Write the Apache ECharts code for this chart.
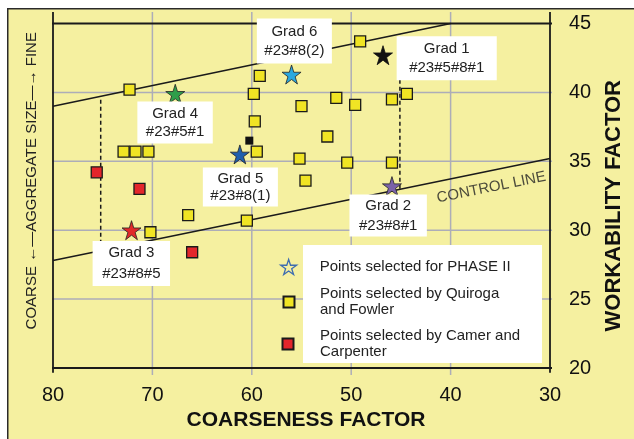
<!DOCTYPE html>
<html><head><meta charset="utf-8">
<script src="https://cdn.jsdelivr.net/npm/echarts@6/dist/echarts.min.js"></script>
<style>html,body{margin:0;padding:0;background:#fff}#c{width:634px;height:439px}</style>
</head><body><div id="c"></div>
<script>
// ---------- data ----------
const xTicks = [80, 70, 60, 50, 40, 30];
const yTicks = [20, 25, 30, 35, 40, 45];
const quirogaFowler = [[72.3,40.2],[59.2,41.2],[59.8,39.9],[55.0,39.0],[51.5,39.6],[49.6,39.1],[45.9,39.5],[44.4,39.9],[49.1,43.7],[59.7,37.9],[52.4,36.8],[59.5,35.7],[55.2,35.2],[50.4,34.9],[45.9,34.9],[54.6,33.6],[72.9,35.7],[71.7,35.7],[70.4,35.7],[66.4,31.1],[60.5,30.7],[70.2,29.85]];
const camerCarpenter = [[75.6,34.2],[71.3,33.0],[66.0,28.4]];
const otherPoints = [[60.25,36.5]];
const gradNames = ['Grad 1','Grad 2','Grad 3','Grad 4','Grad 5','Grad 6'];
const gradCodes = ['#23#5#8#1','#23#8#1','#23#8#5','#23#5#1','#23#8(1)','#23#8(2)'];
const gradPoints = [[46.8,42.7],[45.9,33.2],[72.1,30.0],[67.7,39.9],[61.2,35.5],[56.0,41.3]];
const upperLine = [[80,39.0],[40,45]];
const controlLine = [[80,27.8],[30,35.2]];
const leftLimit = [[75.2,28.5],[75.2,39.7]];
const rightLimit = [[45.1,33.0],[45.1,44.2]];
const controlLabelPos = [[35.9,33.1]];
const legendNames = ['Points selected for PHASE II','Points selected by Quiroga and Fowler','Points selected by Camer and Carpenter'];
const legendLines = ['Points selected for PHASE II','Points selected by Quiroga\nand Fowler','Points selected by Camer and\nCarpenter'];

// ---------- style ----------
const FONT = '"Liberation Sans", Arial, sans-serif';
const STAR = 'path://M50,0L61.17,34.63L97.55,34.55L68.07,55.87L79.39,90.45L50,69L20.61,90.45L31.93,55.87L2.45,34.55L38.83,34.63Z';
const gradColors = ['#111111','#7a62a8','#e12a2a','#2f9e4a','#1f5fad','#29a8e0'];
const gradLabelStyle = [
  {offset:[63.7,3],   padding:[3,12.5],  lineHeight:19},
  {offset:[-3.8,29.3],padding:[1,9.5],   lineHeight:20},
  {offset:[-0.2,33.2],padding:[1.5,9.5], lineHeight:21},
  {offset:[-0.2,28.7],padding:[3,8.5],   lineHeight:18},
  {offset:[0.5,32.5], padding:[2.5,7.5], lineHeight:17},
  {offset:[2.8,-33.5],padding:[3.5,7.5], lineHeight:19}
];
const X_EXT_L = 1.4, X_EXT_R = 1.0, Y_EXT_T = 0.83, Y_EXT_B = 0.5, Y_EXT_B_AX = 0.34;
const GRID_COLOR = '#adadb8', INK = '#1a1a1a';

const xMin = Math.min(...xTicks), xMax = Math.max(...xTicks);
const yMin = Math.min(...yTicks), yMax = Math.max(...yTicks);

function seg(data, color, width, z, dash) {
  return {type:'line', data, symbol:'none', clip:false, silent:true, z,
    lineStyle:{color, width, type: dash || 'solid', opacity:1}, animation:false};
}
const series = [];
xTicks.forEach(x => {
  const edge = (x === xMin || x === xMax);
  series.push(seg([[x, yMin - (edge ? Y_EXT_B_AX : Y_EXT_B)], [x, yMax + Y_EXT_T]], edge ? INK : GRID_COLOR, edge ? 1.8 : 1.5, edge ? 2 : 1));
});
yTicks.forEach(y => {
  const edge = (y === yMin || y === yMax);
  series.push(seg([[xMax + X_EXT_L, y], [xMin - X_EXT_R, y]], edge ? INK : GRID_COLOR, edge ? 1.8 : 1.5, edge ? 2 : 1));
});
series.push(seg(upperLine, INK, 1.6, 3));
series.push(seg(controlLine, INK, 1.6, 3));
series.push(seg(leftLimit, INK, 1.5, 3, [4,3]));
series.push(seg(rightLimit, INK, 1.5, 3, [4,3]));

series.push({type:'scatter', name:legendNames[1], data:quirogaFowler, symbol:'rect', symbolSize:11, z:4,
  itemStyle:{color:'#f0e424', borderColor:INK, borderWidth:1.3, opacity:1}});
series.push({type:'scatter', name:legendNames[2], data:camerCarpenter, symbol:'rect', symbolSize:11, z:4,
  itemStyle:{color:'#e3262b', borderColor:INK, borderWidth:1.3, opacity:1}});
series.push({type:'scatter', name:'other', data:otherPoints, symbol:'rect', symbolSize:8, z:4,
  itemStyle:{color:'#111', opacity:1}});
series.push({type:'scatter', name:legendNames[0], symbol:STAR, symbolSize:19, z:6,
  itemStyle:{color:'#3d6cb0', borderColor:'#222', borderWidth:0.8, opacity:1},
  data: gradPoints.map((p,i) => ({
    value:p,
    itemStyle:{color:gradColors[i], borderColor: i===0 ? '#111' : '#222', borderWidth: 0.8, opacity:1},
    label:{show:true, position:'inside', offset:gradLabelStyle[i].offset,
      formatter: gradNames[i] + '\n' + gradCodes[i],
      backgroundColor:'#ffffff', padding:gradLabelStyle[i].padding,
      lineHeight:gradLabelStyle[i].lineHeight, fontSize:15, fontFamily:FONT, color:'#222', align:'center'}
  }))
});
series.push({type:'scatter', name:'ctl', data:controlLabelPos, symbolSize:0, z:5, silent:true,
  label:{show:true, position:'inside', formatter:'CONTROL LINE', rotate:11.5, fontSize:15, fontFamily:FONT, color:'#222'}});

function mkLegend(i, left, top, icon, itemW, itemH, pad, itemStyle) {
  const d = {name:legendNames[i], icon};
  if (itemStyle) d.itemStyle = itemStyle;
  return {show:true, orient:'vertical', left, top, padding:0, itemWidth:itemW, itemHeight:itemH,
    selectedMode:false, z:6, data:[d],
    formatter: n => legendLines[legendNames.indexOf(n)],
    textStyle:{fontSize:15, fontFamily:FONT, color:'#222', lineHeight:16.5, padding:pad}};
}

const chart = echarts.init(document.getElementById('c'), null, {renderer:'canvas'});
chart.setOption({
  animation:false,
  backgroundColor:'#ffffff',
  textStyle:{fontFamily:FONT},
  graphic:[
    {type:'rect', left:7, top:8, z:-100, shape:{width:700, height:500}, style:{fill:'#f5f0a0', stroke:'#2a2a2a', lineWidth:1.5}},
    {type:'rect', left:303, top:245, z:3, shape:{width:239, height:118}, style:{fill:'#ffffff'}}
  ],
  grid:{left:53, right:84, top:23.5, bottom:71, containLabel:false, outerBoundsMode:'none'},
  xAxis:{type:'value', min:xMin, max:xMax, interval:10, inverse:true,
    axisLine:{show:false}, axisTick:{show:false}, splitLine:{show:false},
    axisLabel:{fontSize:20, color:'#111', margin:17, fontFamily:FONT},
    name:'COARSENESS FACTOR', nameLocation:'middle', nameGap:42,
    nameTextStyle:{fontSize:21, fontWeight:'bold', color:'#111', fontFamily:FONT, padding:[0,0,0,9]}},
  yAxis:[
    {type:'value', position:'right', min:yMin, max:yMax, interval:5,
      axisLine:{show:false}, axisTick:{show:false}, splitLine:{show:false},
      axisLabel:{fontSize:20, color:'#111', margin:19, fontFamily:FONT},
      name:'WORKABILITY FACTOR', nameLocation:'middle', nameRotate:90, nameGap:53,
      nameTextStyle:{fontSize:22, fontWeight:'bold', color:'#111', fontFamily:FONT, padding:[0,20,0,0]}},
    {type:'value', position:'left', min:yMin, max:yMax, interval:5,
      axisLine:{show:false}, axisTick:{show:false}, splitLine:{show:false}, axisLabel:{show:false},
      name:'COARSE \u2190\u2014AGGREGATE SIZE\u2014\u2192 FINE', nameLocation:'middle', nameRotate:90, nameGap:14,
      nameTextStyle:{fontSize:15, color:'#222', fontFamily:FONT, padding:[0,0,0,30]}}
  ],
  legend:[
    mkLegend(0, 280, 258.75, STAR, 16, 16, [0,0,0,18], {color:'rgba(0,0,0,0)', borderColor:'#3d6cb0', borderWidth:1.3}),
    mkLegend(1, 282.5, 282.5, 'rect', 11, 11, [6,0,0,20.5]),
    mkLegend(2, 281.5, 326, 'rect', 11, 11, [0,0,3,21.5])
  ],
  series
});
</script></body></html>
